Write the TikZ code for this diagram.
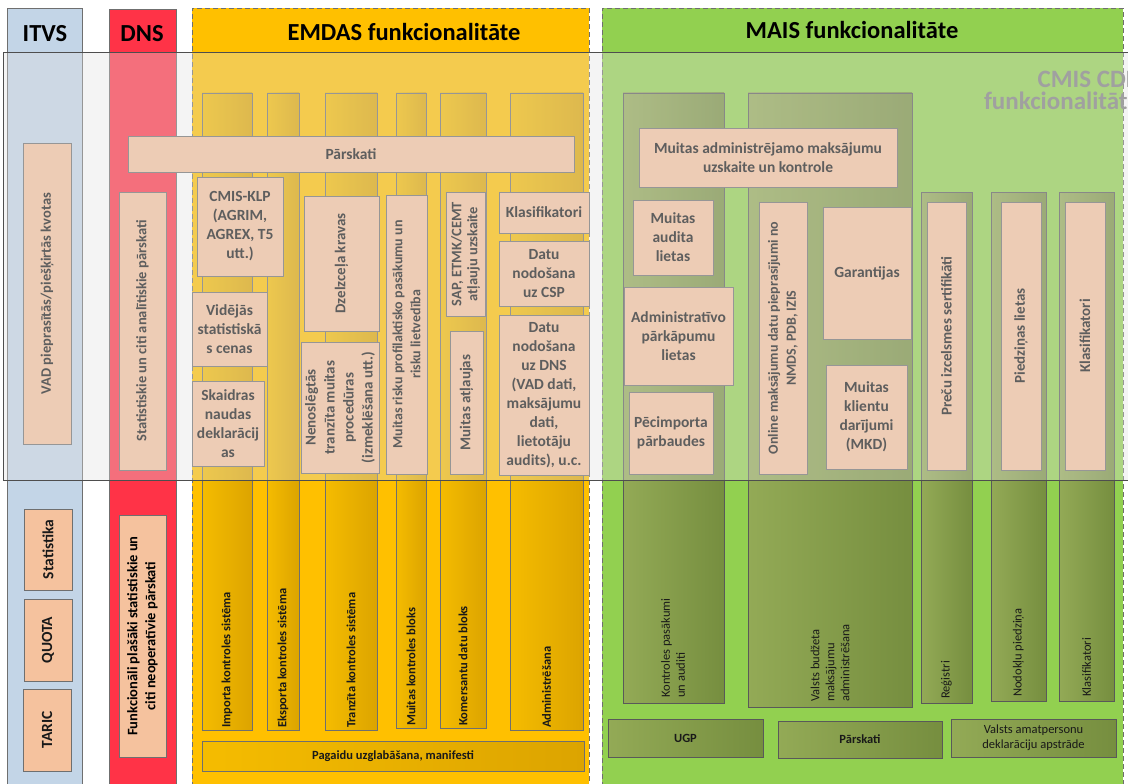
\documentclass[tikz,border=0pt]{standalone}
\usepackage{fontspec}
\setmainfont{Carlito}
\definecolor{itvs}{HTML}{C3D5E7}
\definecolor{dnsc}{HTML}{FF3347}
\definecolor{emdasc}{HTML}{FFC000}
\definecolor{maisc}{HTML}{92D050}
\definecolor{peach}{HTML}{F5C29E}
\definecolor{edge}{HTML}{6F6F6F}
\definecolor{ylL}{HTML}{F5BC00}
\definecolor{ylR}{HTML}{DCA400}
\definecolor{olL}{HTML}{93AA56}
\definecolor{olR}{HTML}{768E3F}
\definecolor{cmisc}{HTML}{A0A0A0}
\newcommand{\BX}[6]{\node[#1, minimum width={(#5)-(#3)}, minimum height={(#6)-(#4)}] (#2) at (#3,#4) {};}
\newcommand{\fs}[2]{\fontsize{#1}{#2}\selectfont\bfseries}
\tikzset{
 base/.style={anchor=north west, inner sep=0pt, outer sep=0pt, line width=0.8pt},
 colbox/.style={base, draw=edge},
 dashbox/.style={base, draw=edge, dash pattern=on 5pt off 3pt},
 peachbox/.style={base, draw=edge, fill=peach},
 ysub/.style={base, draw=edge, left color=ylL, right color=ylR},
 olive/.style={base, draw=edge!80!black, left color=olL, right color=olR},
 ptxt/.style={font=\fs{15.5}{19}, text=black!90, align=center, inner sep=1pt},
 rtxt/.style={ptxt, font=\fs{15}{19}, rotate=90},
 small/.style={font=\fs{12.5}{15}, text=black!90, align=left, inner sep=1pt, rotate=90, anchor=west},
 smallr/.style={small, font=\fontsize{12.5}{15}\selectfont},
 bartxt/.style={font=\fs{12.5}{15}, text=black!90, align=center, inner sep=0pt},
 hdr/.style={font=\fs{24.5}{28}, inner sep=0pt},
 cmistxt/.style={font=\fs{25}{28}, text=cmisc, inner sep=0pt, anchor=base east},
}
\begin{document}
\begin{tikzpicture}[x=1pt,y=-1pt]
\clip (0,0) rectangle (1128,784);
\fill[white] (0,0) rectangle (1128,784);
% main columns
\BX{colbox, fill=itvs}{itvs}{7}{8}{82}{800}
\BX{colbox, fill=dnsc}{dns}{109}{9}{176}{800}
\BX{dashbox, fill=emdasc}{emdas}{192}{8}{589}{800}
\BX{dashbox, fill=maisc}{mais}{602}{8}{1123}{800}
\node[hdr] (itvs-h) at (45,34) {ITVS};
\node[hdr] (dns-h) at (142,34) {DNS};
\node[hdr] (emdas-h) at (404,32) {EMDAS funkcionalitāte};
\node[hdr] (mais-h) at (852,30) {MAIS funkcionalitāte};
% EMDAS sub-columns
\BX{ysub}{imp}{202}{93}{252}{730}
\BX{ysub}{eks}{267}{93}{299}{730}
\BX{ysub}{tra}{325}{93}{377}{730}
\BX{ysub}{mkb}{396}{93}{426}{728}
\BX{ysub}{kdb}{440}{93}{486}{728}
\BX{ysub}{adm}{510}{93}{583}{730}
\BX{ysub}{pag}{202}{741}{584}{771}
\node[small] (imp-t) at (227,729) {Importa kontroles sistēma};
\node[small] (eks-t) at (283,729) {Eksporta kontroles sistēma};
\node[small] (tra-t) at (351,729) {Tranzīta kontroles sistēma};
\node[small] (mkb-t) at (411,727) {Muitas kontroles bloks};
\node[small] (kdb-t) at (463,727) {Komersantu datu bloks};
\node[small] (adm-t) at (546.5,729) {Administrēšana};
\node[bartxt] (pag-t) at (pag.center) {Pagaidu uzglabāšana, manifesti};
% MAIS containers
\BX{olive}{cA}{623}{93}{724}{703}
\BX{olive}{cB}{748}{93}{912}{707}
\BX{olive}{cR}{921}{192}{972}{703}
\BX{olive}{cN}{991}{192}{1046}{701}
\BX{olive}{cK}{1059}{192}{1114}{701}
\BX{olive}{ugp}{608}{719}{763}{757}
\BX{olive}{mpar}{778}{721}{942}{758}
\BX{olive}{vam}{951}{719}{1116}{757}
\node[smallr] (cA-t) at (673,699) {Kontroles pasākumi\\un auditi};
\node[smallr] (cB-t) at (830,703) {Valsts budžeta\\maksājumu\\administrēšana};
\node[smallr] (cR-t) at (946.5,700) {Reģistri};
\node[smallr] (cN-t) at (1018.5,698) {Nodokļu piedziņa};
\node[smallr] (cK-t) at (1086.5,698) {Klasifikatori};
\node[bartxt] (ugp-t) at (ugp.center) {UGP};
\node[bartxt] (mpar-t) at (mpar.center) {Pārskati};
\node[bartxt, font=\fontsize{12.5}{15}\selectfont] (vam-t) at (vam.center) {Valsts amatpersonu\\deklarāciju apstrāde};
% ITVS boxes
\BX{peachbox}{vad}{23}{143}{71}{444}
\BX{peachbox}{sta}{24}{509}{72}{590}
\BX{peachbox}{quo}{24}{599}{72}{681}
\BX{peachbox}{tar}{23}{689}{71}{771}
\node[rtxt, font=\fs{14.5}{18}] (vad-t) at (vad.center) {VAD pieprasītās/piešķirtās kvotas};
\node[rtxt, font=\fs{15.5}{19}] (sta-t) at (sta.center) {Statistika};
\node[rtxt, font=\fs{15.5}{19}] (quo-t) at (quo.center) {QUOTA};
\node[rtxt, font=\fs{15.5}{19}] (tar-t) at (tar.center) {TARIC};
% DNS boxes
\BX{peachbox}{dnsst}{119}{192}{166}{470}
\BX{peachbox}{dnsfp}{119}{515}{166}{757}
\node[rtxt, font=\fs{14.5}{18}] (dnsst-t) at (dnsst.center) {Statistiskie un citi analītiskie pārskati};
\node[rtxt, font=\fs{14.5}{18}, text=black] (dnsfp-t) at (dnsfp.center) {Funkcionāli plašāki statistiskie un\\citi neoperatīvie pārskati};
% EMDAS peach boxes
\BX{peachbox}{par}{128}{136}{574}{172}
\BX{peachbox}{klp}{197}{177}{283}{276}
\BX{peachbox}{vid}{192}{292}{267}{366}
\BX{peachbox}{ska}{192}{381}{264}{466}
\BX{peachbox}{dze}{304}{196}{379}{331}
\BX{peachbox}{nen}{301}{342}{379}{473}
\BX{peachbox}{ris}{386}{195}{427}{474}
\BX{peachbox}{sap}{446}{192}{485}{316}
\BX{peachbox}{atl}{450}{331}{483}{474}
\BX{peachbox}{kla}{499}{192}{589}{233}
\BX{peachbox}{csp}{499}{241}{589}{306}
\BX{peachbox}{dnsd}{499}{315}{589}{475}
\node[ptxt] (par-t) at (par.center) {Pārskati};
\node[ptxt] (klp-t) at (klp.center) {CMIS-KLP\\(AGRIM,\\AGREX, T5\\utt.)};
\node[ptxt] (vid-t) at (vid.center) {Vidējās\\statistiskā\\s cenas};
\node[ptxt] (ska-t) at (ska.center) {Skaidras\\naudas\\deklarācij\\as};
\node[rtxt] (dze-t) at (dze.center) {Dzelzceļa kravas};
\node[rtxt, font=\fs{15}{19}] (nen-t) at (nen.center) {Nenoslēgtās\\tranzīta muitas\\procedūras\\(izmeklēšana utt.)};
\node[rtxt, font=\fs{14}{18}] (ris-t) at (ris.center) {Muitas risku profilaktisko pasākumu un\\risku lietvedība};
\node[rtxt, font=\fs{14.5}{16}] (sap-t) at (sap.center) {SAP, ETMK/CEMT\\atļauju uzskaite};
\node[rtxt] (atl-t) at (atl.center) {Muitas atļaujas};
\node[ptxt] (kla-t) at (kla.center) {Klasifikatori};
\node[ptxt] (csp-t) at (csp.center) {Datu\\nodošana\\uz CSP};
\node[ptxt] (dnsd-t) at (dnsd.center) {Datu\\nodošana\\uz DNS\\(VAD dati,\\maksājumu\\dati,\\lietotāju\\audits), u.c.};
% MAIS peach boxes
\BX{peachbox}{mak}{639}{128}{897}{187}
\BX{peachbox}{aud}{633}{200}{713}{275}
\BX{peachbox}{apl}{624}{287}{733}{385}
\BX{peachbox}{pec}{629}{392}{713}{474}
\BX{peachbox}{onl}{759}{202}{807}{474}
\BX{peachbox}{gar}{823}{207}{911}{339}
\BX{peachbox}{mkd}{826}{365}{907}{469}
\BX{peachbox}{pre}{927}{202}{966}{470}
\BX{peachbox}{pie}{1001}{202}{1041}{470}
\BX{peachbox}{kl2}{1065}{202}{1105}{470}
\node[ptxt] (mak-t) at (mak.center) {Muitas administrējamo maksājumu\\uzskaite un kontrole};
\node[ptxt] (aud-t) at (aud.center) {Muitas\\audita\\lietas};
\node[ptxt] (apl-t) at (apl.center) {Administratīvo\\pārkāpumu\\lietas};
\node[ptxt] (pec-t) at (pec.center) {Pēcimporta\\pārbaudes};
\node[rtxt, font=\fs{14}{18}] (onl-t) at (onl.center) {Online maksājumu datu pieprasījumi no\\NMDS, PDB, IZIS};
\node[ptxt] (gar-t) at (gar.center) {Garantijas};
\node[ptxt] (mkd-t) at (mkd.center) {Muitas\\klientu\\darījumi\\(MKD)};
\node[rtxt] (pre-t) at (pre.center) {Preču izcelsmes sertifikāti};
\node[rtxt] (pie-t) at (pie.center) {Piedziņas lietas};
\node[rtxt] (kl2-t) at (kl2.center) {Klasifikatori};
% translucent CMIS CDB band
\BX{base, fill=black!12, fill opacity=0.35}{bandfill}{3}{52}{1140}{480}
\BX{base, draw=edge!70!black, line width=0.9pt}{band}{3}{52}{1140}{480}
\node[cmistxt] (cmis1) at (1140,88) {CMIS CDB};
\node[cmistxt] (cmis2) at (1140,110) {funkcionalitāte};
\end{tikzpicture}
\end{document}
